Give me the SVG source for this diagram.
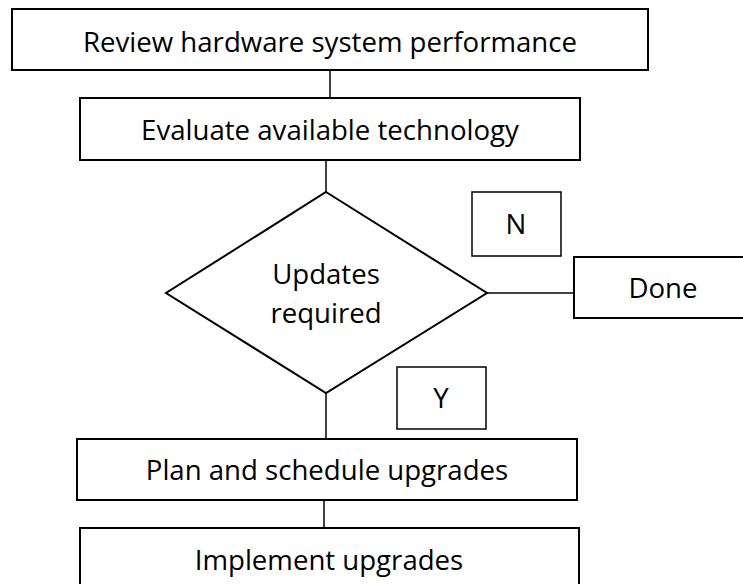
<svg xmlns="http://www.w3.org/2000/svg" width="743" height="584" viewBox="0 0 743 584">
<style>
.box{fill:#fff;stroke:#000;stroke-width:2}
.lbl{fill:#fff;stroke:#000;stroke-width:1.5}
.t{font-family:"Open Sans","Noto Sans",sans-serif;font-size:27.6px;fill:#000;text-anchor:middle}
.c{stroke:#000;stroke-width:1.5;fill:none}
</style>
<rect width="743" height="584" fill="#fff"/>
<g id="connectors">
<line class="c" x1="330" y1="70" x2="330" y2="98"/>
<line class="c" x1="326" y1="161" x2="326" y2="192"/>
<line class="c" x1="487" y1="293" x2="574" y2="293"/>
<line class="c" x1="326" y1="393" x2="326" y2="439"/>
<line class="c" x1="324" y1="501" x2="324" y2="528"/>
</g>
<g id="n1"><rect class="box" x="12" y="9" width="636" height="61"/><text class="t" x="330" y="52">Review hardware system performance</text></g>
<g id="n2"><rect class="box" x="80" y="98" width="500" height="62"/><text class="t" x="330" y="140">Evaluate available technology</text></g>
<g id="n3"><polygon class="box" points="326,192 487,293 326,393 166,293"/><text class="t" x="326" y="284">Updates</text><text class="t" x="326" y="323">required</text></g>
<g id="n4"><rect class="box" x="574" y="257" width="178" height="61"/><text class="t" x="663" y="298">Done</text></g>
<g id="lblN"><rect class="lbl" x="472" y="192" width="89" height="64"/><text class="t" x="516" y="234">N</text></g>
<g id="lblY"><rect class="lbl" x="397" y="367" width="89" height="62"/><text class="t" x="441" y="408">Y</text></g>
<g id="n5"><rect class="box" x="77" y="439" width="500" height="61"/><text class="t" x="327" y="480">Plan and schedule upgrades</text></g>
<g id="n6"><rect class="box" x="80" y="528" width="499" height="62"/><text class="t" x="329" y="570">Implement upgrades</text></g>
</svg>
